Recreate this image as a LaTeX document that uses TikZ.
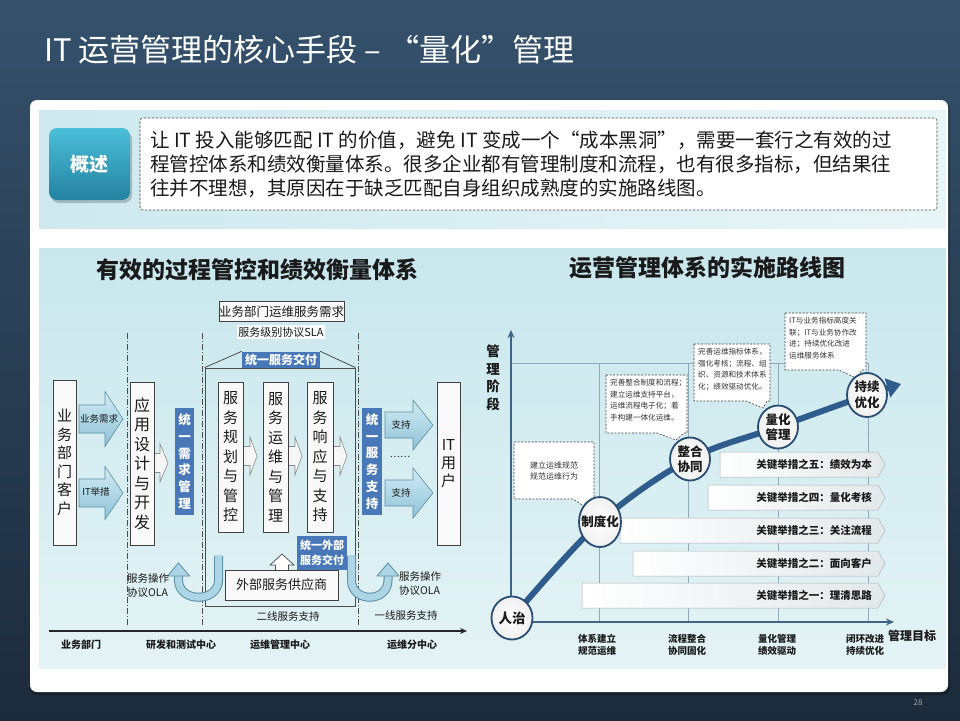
\documentclass[tikz,border=0pt]{standalone}
\usepackage{fontspec}
\setmainfont{Noto Sans CJK SC}
\usetikzlibrary{shapes.geometric,arrows.meta,calc}
\definecolor{bgtop}{HTML}{35516C}
\definecolor{bgbot}{HTML}{1C2B3B}
\definecolor{bandL}{HTML}{CDE9EF}
\definecolor{bandR}{HTML}{E8F5F7}
\definecolor{btnT}{HTML}{4BBFD9}
\definecolor{btnB}{HTML}{2382A0}
\definecolor{imgT}{HTML}{C8E7ED}
\definecolor{imgB}{HTML}{E4F3F5}
\definecolor{bluebx}{HTML}{4878B8}
\definecolor{arrT}{HTML}{D2ECF4}
\definecolor{arrB}{HTML}{8DC2D7}
\definecolor{arrD}{HTML}{5A8EA6}
\definecolor{uC}{HTML}{ACD6E5}
\definecolor{curveC}{HTML}{2E5C8C}
\definecolor{ringC}{HTML}{2A4D74}
\definecolor{gridC}{HTML}{8FA9B8}
\definecolor{axisC}{HTML}{3E6488}
\definecolor{pentR}{HTML}{E3E8EA}
\definecolor{pentD}{HTML}{A9B4BA}
\definecolor{txt}{HTML}{1A1A1A}
\newcommand\fsz[2]{\fontsize{#1}{#2}\selectfont}
\newcommand\blkarrow[6]{\shadedraw[top color=arrT, bottom color=arrB, draw=arrD, line width=0.6pt]
  (#1,#4-#5) -- (#2,#4-#5) -- (#2,#4-#6) -- (#3,#4) -- (#2,#4+#6) -- (#2,#4+#5) -- (#1,#4+#5) -- cycle;}
\newcommand\chevarrow[4]{\filldraw[fill=white!93!gray, draw=black!45, line width=0.6pt]
  (#1,#4-9.5) -- (#2,#4-9.5) -- (#2,#4-19) -- (#3,#4) -- (#2,#4+19) -- (#2,#4+9.5) -- (#1,#4+9.5) -- cycle;}
\newcommand\pentbar[3]{\shadedraw[left color=white, right color=pentR, draw=pentD, line width=0.5pt]
  (#1,#2) -- (878,#2) -- (885,{(#2+#3)/2}) -- (878,#3) -- (#1,#3) -- cycle;}
\begin{document}
\begin{tikzpicture}[x=1pt,y=-1pt,
  wbox/.style={draw=black!75, line width=0.8pt, fill=white!95!gray, inner sep=0pt, align=center, text=txt},
  bbox/.style={fill=bluebx, text=white, inner sep=0pt, align=center, font=\bfseries\fsz{12.5}{16.8}},
  lbl/.style={inner sep=0pt, text=txt, align=center},
  ddline/.style={black!70, line width=0.9pt, dash pattern=on 6pt off 2pt on 1pt off 2pt},
  ring/.style={ellipse, draw=ringC, line width=1.8pt, inner color=white, outer color=gray!12, inner sep=0pt},
  ringtext/.style={inner sep=0pt, align=center, font=\bfseries\fsz{12.5}{15.5}, text=txt},
  callout/.style={fill=white, draw=black!75, line width=0.6pt, dash pattern=on 2pt off 1.5pt},
  calltext/.style={inner sep=0pt, align=left, font=\fsz{7.6}{11.6}, text=black!80},
  pentlbl/.style={anchor=east, inner sep=0pt, font=\bfseries\fsz{10.5}{12}, text=txt}
]
\useasboundingbox (0,0) rectangle (960,720);
% slide background
\shade[top color=bgtop, bottom color=bgbot] (0,0) rectangle (960,720);
\node[anchor=west, text=white, font=\fsz{31}{36}, inner sep=0pt] (title) at (44,50) {IT 运营管理的核心手段 – “量化”管理};
\node[text=gray!70, font=\fsz{8}{10}, inner sep=0pt] (pg) at (918,703) {28};
% white panel
\fill[black, opacity=0.25, rounded corners=7] (31,102) rectangle (950,695);
\fill[white, rounded corners=7] (30,100) rectangle (948,692);
% summary band
\shade[left color=bandL, right color=bandR] (39,110) rectangle (946,228);
\fill[black, opacity=0.2, rounded corners=8] (51,131) rectangle (132,203);
\shade[top color=btnT, bottom color=btnB, rounded corners=8] (49,128) rectangle (130,200);
\node[text=white, font=\bfseries\fsz{19}{22}, inner sep=0pt] (gaishu) at (89.5,164) {概述};
\node[fill=white, draw=black!70, line width=0.6pt, dash pattern=on 2.5pt off 1.5pt, rounded corners=3,
  minimum width=797, minimum height=92, inner sep=0pt] (sumbox) at (538.5,164) {};
\node[anchor=west, align=left, font=\fsz{19.5}{24}, text=txt, inner sep=0pt] (sumtext) at (150,164)
  {让 IT 投入能够匹配 IT 的价值，避免 IT 变成一个“成本黑洞”，需要一套行之有效的过\\
   程管控体系和绩效衡量体系。很多企业都有管理制度和流程，也有很多指标，但结果往\\
   往并不理想，其原因在于缺乏匹配自身组织成熟度的实施路线图。};
% lower image area
\shade[top color=imgT, bottom color=imgB] (39,248) rectangle (946,668);

% ================= LEFT DIAGRAM =================
\node[lbl, font=\bfseries\fsz{23}{26}] (ltitle) at (257,270) {有效的过程管控和绩效衡量体系};
% dash-dot separators
\draw[ddline] (127,333) -- (127,627);
\draw[ddline] (202,333) -- (202,627);
\draw[ddline] (358,333) -- (358,627);
% big box and roof
\node[draw=black!70, line width=0.8pt, minimum width=150, minimum height=238, inner sep=0pt] (bigbox) at (280,487) {};
\node[wbox, minimum width=124, minimum height=20, font=\fsz{12.5}{14}] (xqbox) at (281.5,311.5) {业务部门运维服务需求};
\node[lbl, fill=white!90!imgT, inner sep=1.5pt, font=\fsz{11}{13}] (sla) at (281,332) {服务级别协议SLA};
\node[bbox, minimum width=78, minimum height=16, font=\bfseries\fsz{12}{14}] (jiaofu) at (281,359.5) {统一服务交付};
\draw[black!70, line width=0.8pt] (bigbox.north west) -- (jiaofu.north west);
\draw[black!70, line width=0.8pt] (bigbox.north east) -- (jiaofu.north east);
% block arrows
\blkarrow{79}{105}{123}{419}{14}{27.5}
\blkarrow{79}{105}{123}{493}{14}{26.5}
\blkarrow{385}{413}{433}{425}{13}{25}
\blkarrow{385}{413}{433}{493}{13}{25}
\node[lbl, font=\fsz{9.5}{11}] (a1) at (99,419) {业务需求};
\node[lbl, font=\fsz{9.5}{11}] (a2) at (96,492) {IT举措};
\node[lbl, font=\fsz{9.5}{11}] (a3) at (401,425) {支持};
\node[lbl, font=\fsz{9.5}{11}] (a4) at (401,493) {支持};
\node[lbl, font=\fsz{9.5}{11}] (dots) at (400,457) {……};
% chevrons
\chevarrow{154}{160}{168}{463}
\chevarrow{243}{250}{257}{456}
\chevarrow{288}{295}{302}{456}
\chevarrow{333}{340}{347}{456}
% vertical boxes
\node[wbox, minimum width=23, minimum height=165, font=\fsz{15}{18.5}] (kehu) at (64.5,462.5) {业\\务\\部\\门\\客\\户};
\node[wbox, minimum width=24, minimum height=163, font=\fsz{16}{19.5}] (yingyong) at (142,463.5) {应\\用\\设\\计\\与\\开\\发};
\node[bbox, minimum width=19, minimum height=107] (xuqiu) at (184.5,461.5) {统\\一\\需\\求\\管\\理};
\node[wbox, minimum width=25, minimum height=150, font=\fsz{15}{19.5}] (fw1) at (230.5,457) {服\\务\\规\\划\\与\\管\\控};
\node[wbox, minimum width=25, minimum height=150, font=\fsz{15}{19.5}] (fw2) at (275.5,457) {服\\务\\运\\维\\与\\管\\理};
\node[wbox, minimum width=26, minimum height=150, font=\fsz{15}{19.5}] (fw3) at (320,457) {服\\务\\响\\应\\与\\支\\持};
\node[bbox, minimum width=20, minimum height=107] (zhichi) at (372,461.5) {统\\一\\服\\务\\支\\持};
\node[wbox, minimum width=23, minimum height=163, font=\fsz{15}{18}] (ituser) at (448.5,463.5) {IT\\用\\户};
% U-turn arrows
\draw[arrD, line width=9pt] (218.5,556) -- (218.5,580) .. controls (218.5,603) and (178.5,603) .. (178.5,580) -- (178.5,575);
\draw[uC, line width=7pt] (218.5,555) -- (218.5,580) .. controls (218.5,603) and (178.5,603) .. (178.5,580) -- (178.5,574);
\filldraw[fill=uC, draw=arrD, line width=0.8pt] (167.5,576) -- (178.5,563) -- (189.5,576) -- cycle;
\draw[arrD, line width=9pt] (351.5,556) -- (351.5,580) .. controls (351.5,603) and (388,603) .. (388,580) -- (388,575);
\draw[uC, line width=7pt] (351.5,555) -- (351.5,580) .. controls (351.5,603) and (388,603) .. (388,580) -- (388,574);
\filldraw[fill=uC, draw=arrD, line width=0.8pt] (377,576) -- (388,563) -- (399,576) -- cycle;
% external supplier
\filldraw[fill=white, draw=black!70, line width=0.7pt] (275.5,570) -- (275.5,565) -- (270,565) -- (282,554) -- (294,565) -- (288.5,565) -- (288.5,570);
\node[bbox, minimum width=50, minimum height=34, font=\bfseries\fsz{11}{14.5}] (waibu) at (322,553) {统一外部\\服务交付};
\node[wbox, minimum width=113, minimum height=30, font=\fsz{13}{15}] (gys) at (281.5,585) {外部服务供应商};
% labels
\node[lbl, anchor=west, align=left, font=\fsz{10.5}{14}] (ola1) at (127,586) {服务操作\\协议OLA};
\node[lbl, anchor=west, align=left, font=\fsz{10.5}{14}] (ola2) at (399,584) {服务操作\\协议OLA};
\node[lbl, font=\fsz{10.5}{12}] (erxian) at (288,616) {二线服务支持};
\node[lbl, font=\fsz{10.5}{12}] (yixian) at (406,615) {一线服务支持};
% axis
\draw[black!85, line width=1.2pt, -{Stealth[length=7pt,width=6pt]}] (49,631) -- (467,631);
\node[lbl, font=\bfseries\fsz{10}{12}] (b1) at (81,645) {业务部门};
\node[lbl, font=\bfseries\fsz{10}{12}] (b2) at (181,645) {研发和测试中心};
\node[lbl, font=\bfseries\fsz{10}{12}] (b3) at (280,645) {运维管理中心};
\node[lbl, font=\bfseries\fsz{10}{12}] (b4) at (412,645) {运维分中心};

% ================= RIGHT DIAGRAM =================
\node[lbl, font=\bfseries\fsz{23}{26}] (rtitle) at (707,268) {运营管理体系的实施路线图};
% grid
\draw[gridC, line width=0.6pt] (511,363) -- (868,363);
\foreach \gx in {599,688,778,868} { \draw[gridC, line width=0.6pt] (\gx,363) -- (\gx,622); }
% axes
\coordinate (origin) at (511,622);
\coordinate (ytop) at (511,330);
\coordinate (xend) at (894,622);
\draw[axisC, line width=1.4pt, -{Stealth[length=8pt,width=7pt]}] (origin) -- (ytop);
\draw[axisC, line width=1.4pt, -{Stealth[length=8pt,width=7pt]}] (origin) -- (xend);
\node[lbl, font=\bfseries\fsz{13.5}{17.5}] (ylab) at (493,378) {管\\理\\阶\\段};
\node[lbl, font=\bfseries\fsz{12}{14}] (xlab) at (912,636) {管理目标};
\node[lbl, font=\bfseries\fsz{9.5}{12.5}] (g1) at (597,645) {体系建立\\规范运维};
\node[lbl, font=\bfseries\fsz{9.5}{12.5}] (g2) at (687,645) {流程整合\\协同固化};
\node[lbl, font=\bfseries\fsz{9.5}{12.5}] (g3) at (777,645) {量化管理\\绩效驱动};
\node[lbl, font=\bfseries\fsz{9.5}{12.5}] (g4) at (865,645) {闭环改进\\持续优化};
% key measure bars
\pentbar{720}{452}{477}
\node[pentlbl] (k5) at (872,464.5) {关键举措之五：绩效为本};
\pentbar{708}{485}{510}
\node[pentlbl] (k4) at (872,497.5) {关键举措之四：量化考核};
\pentbar{620}{518}{543}
\node[pentlbl] (k3) at (872,530.5) {关键举措之三：关注流程};
\pentbar{633}{551}{576}
\node[pentlbl] (k2) at (872,563.5) {关键举措之二：面向客户};
\pentbar{582}{583}{608}
\node[pentlbl] (k1) at (872,595.5) {关键举措之一：理清思路};
% callouts
\draw[callout] (514,442) -- (594,442) -- (594,499) -- (591,499) -- (585,507) -- (573,499) -- (514,499) -- cycle;
\node[calltext, align=center, font=\fsz{8}{10.5}] (c1) at (554,471) {建立运维规范\\规范运维行为};
\draw[callout] (606,375) -- (687,375) -- (687,433) -- (684,433) -- (676,440) -- (657,433) -- (606,433) -- cycle;
\node[calltext, anchor=north west] (c2) at (610,379) {完善整合制度和流程；\\建立运维支持平台，\\运维流程电子化；着\\手构建一体化运维。};
\draw[callout] (694,344) -- (770,344) -- (770,401) -- (767,401) -- (763,408) -- (746,401) -- (694,401) -- cycle;
\node[calltext, anchor=north west] (c3) at (698,348) {完善运维指标体系，\\强化考核；流程、组\\织、资源和技术体系\\化；绩效驱动优化。};
\draw[callout] (785,313) -- (866,313) -- (866,370) -- (862,370) -- (856,378) -- (839,370) -- (785,370) -- cycle;
\node[calltext, anchor=north west] (c4) at (789,317) {IT与业务指标高度关\\联；IT与业务协作改\\进；持续优化改进\\运维服务体系};
% curve
\coordinate (pRZ) at (512,618);
\coordinate (pZD) at (600,522);
\coordinate (pZH) at (690,459);
\coordinate (pLH) at (778,427);
\coordinate (pCX) at (867,395);
\coordinate (pEnd) at (901,384);
\draw[curveC, line width=6pt, -{Triangle[length=14pt,width=19pt]}] plot[smooth, tension=0.55] coordinates {(pRZ) (pZD) (pZH) (pLH) (pCX) (pEnd)};
% stage circles
\node[ring, minimum width=41, minimum height=43] (rz) at (pRZ) {};
\node[ringtext, font=\bfseries\fsz{13.5}{15}] (rzt) at (rz) {人治};
\node[ring, minimum width=42, minimum height=50] (zd) at (pZD) {};
\node[ringtext, font=\bfseries\fsz{12.5}{15}] (zdt) at (zd) {制度化};
\node[ring, minimum width=40, minimum height=43] (zh) at (pZH) {};
\node[ringtext] (zht) at (zh) {整合\\协同};
\node[ring, minimum width=40, minimum height=43] (lh) at (pLH) {};
\node[ringtext] (lht) at (lh) {量化\\管理};
\node[ring, minimum width=40, minimum height=44] (cx) at (pCX) {};
\node[ringtext] (cxt) at (cx) {持续\\优化};
\end{tikzpicture}
\end{document}
